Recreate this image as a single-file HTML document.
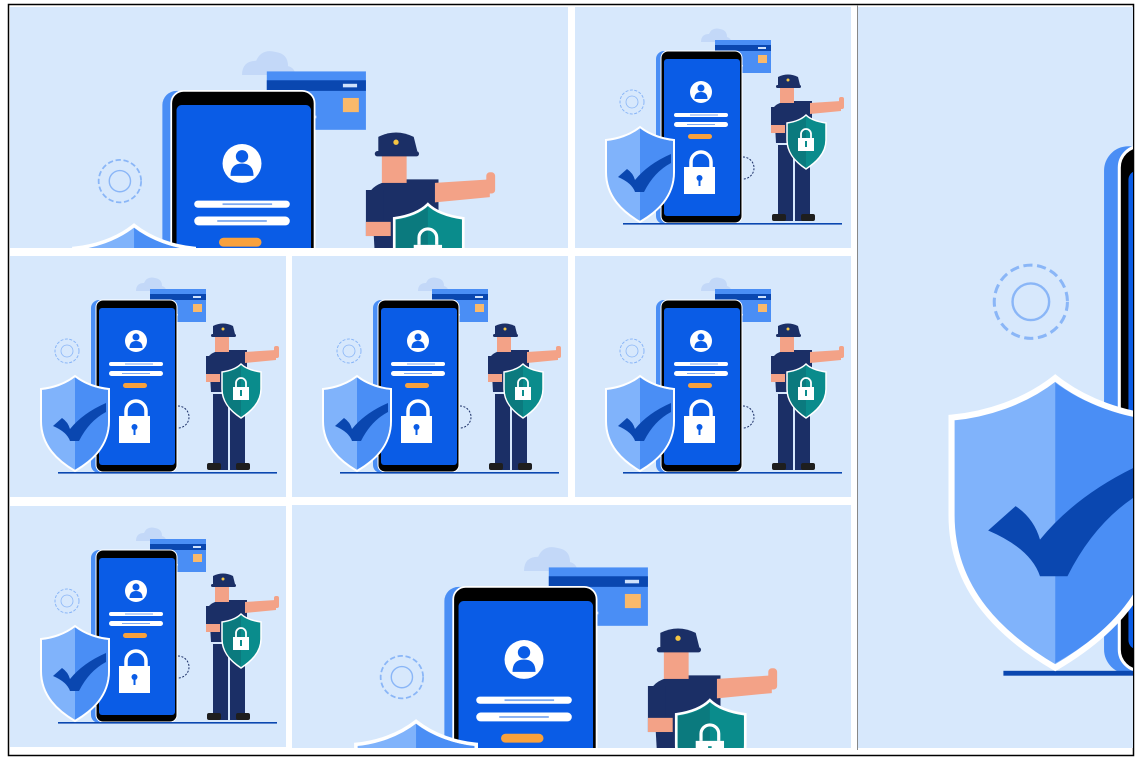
<!DOCTYPE html>
<html><head><meta charset="utf-8"><style>
html,body{margin:0;padding:0;background:#fff;width:1137px;height:760px;overflow:hidden}
svg{display:block}
</style></head><body>
<svg width="1137" height="760" viewBox="0 0 1137 760" xmlns="http://www.w3.org/2000/svg">
<defs>
<g id="ill">
<rect x="0" y="0" width="276" height="241" fill="#d7e8fc"/>
<path d="M126,35 q0,-8 8,-8 q3,-7 11,-5 q7,1 7,8 q4,1 4,5 z" fill="#c3d8f8"/>
<circle cx="57" cy="95" r="12" fill="none" stroke="#8ab6f7" stroke-width="1" stroke-dasharray="3 1.5"/>
<circle cx="57" cy="95" r="6" fill="none" stroke="#8ab6f7" stroke-width="0.8"/>
<path d="M168,150 a11,11 0 0 1 0,22" fill="none" stroke="#1b2f66" stroke-width="1" stroke-dasharray="2 1.5"/>
<rect x="140" y="33" width="56" height="33" fill="#4a8ef5"/>
<rect x="140" y="38" width="56" height="6" fill="#0a47b0"/>
<rect x="183" y="48" width="9" height="8" fill="#f9b96b"/>
<rect x="145" y="58" width="10" height="1.5" fill="#cfe1fb"/>
<rect x="158" y="58" width="10" height="1.5" fill="#cfe1fb"/>
<rect x="183" y="40" width="8" height="2" fill="#cfe1fb"/>
<rect x="81" y="44" width="70" height="173" rx="8" fill="#4a8ef5"/>
<rect x="86" y="44" width="81" height="172" rx="7" fill="#000" stroke="#fff" stroke-width="1"/>
<rect x="89" y="52" width="76" height="157" rx="3" fill="#0a5ce6"/>
<circle cx="126" cy="85" r="11" fill="#fff"/>
<circle cx="126" cy="81" r="3.5" fill="#0a5ce6"/>
<path d="M119.5,92 q0,-7 6.5,-7 q6.5,0 6.5,7 z" fill="#0a5ce6"/>
<rect x="99" y="106" width="54" height="4" rx="2" fill="#fff"/>
<rect x="115" y="107.5" width="28" height="1" fill="#7faaf0"/>
<rect x="99" y="115" width="54" height="5" rx="2.5" fill="#fff"/>
<rect x="112" y="117" width="28" height="1" fill="#7faaf0"/>
<rect x="113" y="127" width="24" height="5" rx="2.5" fill="#f9a13c"/>
<path d="M116,160 v-5 a10,10 0 0 1 20,0 v5" fill="none" stroke="#fff" stroke-width="3.5"/>
<rect x="109" y="160" width="31" height="27" fill="#fff"/>
<circle cx="124.5" cy="171" r="3" fill="#0a5ce6"/>
<rect x="123.5" y="171" width="2" height="8" fill="#0a5ce6"/>
<rect x="48" y="216" width="219" height="1.6" fill="#0a47b0"/>
<path d="M65,120 C55,128 42,132 31,133 L31,165 C31,190 48,205 65,215 C82,205 99,190 99,165 L99,133 C88,132 75,128 65,120 Z" fill="#80b3fb" stroke="#fff" stroke-width="2"/>
<path d="M65,121.5 C75,129 88,133 98,134 L98,165 C98,189 82,204 65,213.5 Z" fill="#4a8ef5"/>
<path d="M43,170 L52,162 Q58,166 60,173 Q73,157 96,147 L96,156 Q79,165 69,185 L60,185 Q57,176 43,170 Z" fill="#0a47b0"/>
<rect x="203" y="138" width="15" height="76" fill="#1b2f66"/>
<rect x="220" y="138" width="15" height="76" fill="#1b2f66"/>
<rect x="197" y="207" width="14" height="7" rx="2" fill="#1e1e1e"/>
<rect x="226" y="207" width="14" height="7" rx="2" fill="#1e1e1e"/>
<path d="M199,100 q5,-6 20,-6 l18,0 l0,42 l-36,0 z" fill="#1b2f66"/>
<path d="M235,96 l31,-2 l0,10 l-31,3 z" fill="#f3a287"/>
<rect x="264" y="90" width="5" height="12" rx="2" fill="#f3a287"/>
<rect x="196" y="100" width="10" height="26" fill="#1b2f66"/>
<rect x="196" y="118" width="14" height="8" fill="#f3a287"/>
<rect x="205" y="80" width="14" height="16" fill="#f3a287"/>
<path d="M203,78 l22,0 l-2,-8 q-10,-5 -20,0 z" fill="#1b2f66"/>
<rect x="201" y="78" width="25" height="3" rx="1.5" fill="#1b2f66"/>
<circle cx="213" cy="73" r="1.5" fill="#f5c542"/>
<path d="M231,108 C226,113 219,115 212,116 L212,133 C212,147 222,156 231,162 C240,156 251,147 251,133 L251,116 C244,115 236,113 231,108 Z" fill="#0a8c8c" stroke="#fff" stroke-width="1.5"/>
<path d="M231,109.5 L231,160.5 C222,155 213,147 213,133 L213,117 C220,116 226,114 231,109.5 Z" fill="#0b7a7e"/>
<path d="M226,131 v-4 a5,5 0 0 1 10,0 v4" fill="none" stroke="#fff" stroke-width="1.8"/>
<rect x="223" y="131" width="16" height="13" fill="#fff"/>
<rect x="230" y="134" width="2" height="6" fill="#0a8c8c"/>
</g>
<clipPath id="c1"><rect x="10" y="7" width="558" height="241"/></clipPath>
<clipPath id="c3"><rect x="858" y="7" width="275" height="741"/></clipPath>
<clipPath id="c8"><rect x="292" y="505" width="559" height="243"/></clipPath>
<clipPath id="cs"><rect x="0" y="0" width="276" height="241"/></clipPath>
</defs>
<rect x="8.5" y="4.5" width="1125" height="751" fill="#fff" stroke="#000" stroke-width="1.5"/>
<rect x="857" y="5" width="1" height="745" fill="#888"/>
<g clip-path="url(#c1)"><rect x="10" y="7" width="558" height="241" fill="#d7e8fc"/>
<g transform="translate(19,13) scale(1.77)"><use href="#ill"/></g></g>
<g transform="translate(575,7)" clip-path="url(#cs)"><use href="#ill"/></g>
<g transform="translate(10,256)" clip-path="url(#cs)"><use href="#ill"/></g>
<g transform="translate(292,256)" clip-path="url(#cs)"><use href="#ill"/></g>
<g transform="translate(575,256)" clip-path="url(#cs)"><use href="#ill"/></g>
<g transform="translate(10,506)" clip-path="url(#cs)"><use href="#ill"/></g>
<g clip-path="url(#c3)"><rect x="858" y="7" width="275" height="741" fill="#d7e8fc"/>
<g transform="translate(857,12) scale(3.05)"><use href="#ill"/></g></g>
<g clip-path="url(#c8)"><rect x="292" y="505" width="559" height="243" fill="#d7e8fc"/>
<g transform="translate(301,509) scale(1.77)"><use href="#ill"/></g></g>
</svg>
</body></html>
